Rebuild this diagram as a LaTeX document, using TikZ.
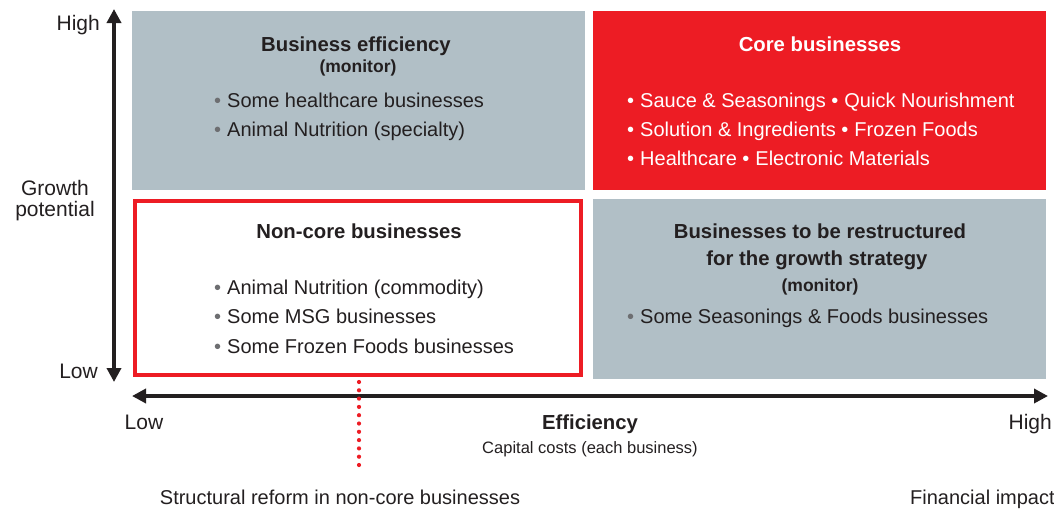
\documentclass[tikz,border=0pt]{standalone}
\usepackage{fontspec}
\setmainfont{Liberation Sans}
\usetikzlibrary{arrows.meta}
\definecolor{boxgray}{HTML}{B1BFC6}
\definecolor{corered}{HTML}{ED1C24}
\definecolor{txt}{HTML}{231F20}
\definecolor{bulgray}{HTML}{6D6E71}
\newcommand{\gb}{{\color{bulgray}\textbullet}\hspace{0.3em}}
\newcommand{\wb}{\textbullet\hspace{0.3em}}
\tikzset{
  quad/.style={draw=none,inner sep=0pt},
  body/.style={font=\fontsize{20}{24}\selectfont,text=txt,inner sep=0pt},
  lab/.style={font=\fontsize{21}{25}\selectfont,text=txt,inner sep=0pt},
  head/.style={font=\fontsize{20.3}{24}\selectfont\bfseries,text=txt,inner sep=0pt},
  subhead/.style={font=\fontsize{17.5}{20}\selectfont\bfseries,text=txt,inner sep=0pt},
  small/.style={font=\fontsize{16.5}{19}\selectfont,text=txt,inner sep=0pt},
  axis/.style={line width=3.8pt,draw=txt},
}
\begin{document}
\begin{tikzpicture}[x=1pt,y=-1pt]
\useasboundingbox (0,0) rectangle (1054,509);
% quadrants
\fill[boxgray] (132,11) rectangle (585,190);
\node[quad,minimum width=453pt,minimum height=179pt] (be) at (358.5,100.5) {};
\fill[corered] (593,11) rectangle (1046,190);
\node[quad,minimum width=453pt,minimum height=179pt] (cb) at (819.5,100.5) {};
\draw[corered,line width=4pt] (135,201) rectangle (581,375);
\node[quad,minimum width=446pt,minimum height=174pt] (nc) at (358,288) {};
\fill[boxgray] (593,199) rectangle (1046,379);
\node[quad,minimum width=453pt,minimum height=180pt] (rs) at (819.5,289) {};

% axes
\coordinate (vtop) at (114,9);
\coordinate (vbot) at (114,382);
\draw[axis,{Triangle[width=14pt,length=14pt]}-{Triangle[width=14pt,length=14pt]}] (vtop) -- (vbot);
\coordinate (hl) at (132,396);
\coordinate (hr) at (1048,396);
\draw[axis,{Triangle[width=14pt,length=14pt]}-{Triangle[width=14pt,length=14pt]}] (hl) -- (hr);

% axis labels
\node[lab,anchor=base east] (yh) at (100,30) {High};
\node[lab,anchor=base east] (yl) at (98,378) {Low};
\node[lab,anchor=base] (gp1) at (55,195) {Growth};
\node[lab,anchor=base] (gp2) at (55,216) {potential};
\node[lab,anchor=base] (xl) at (144,429) {Low};
\node[lab,anchor=base east] (xh) at (1052,429) {High};
\node[head,anchor=base] (eff) at (590,429) {Efficiency};
\node[small,anchor=base] (cap) at (590,453) {Capital costs (each business)};

% business efficiency
\node[head,anchor=base] (t1) at (356,51) {Business efficiency};
\node[subhead,anchor=base] (t1b) at (358,72) {(monitor)};
\node[body,anchor=base west] (b11) at (214,107) {\gb Some healthcare businesses};
\node[body,anchor=base west] (b12) at (214,136) {\gb Animal Nutrition (specialty)};

% core
\node[head,anchor=base,text=white] (t2) at (820,51) {Core businesses};
\node[body,anchor=base west,text=white] (b21) at (627,107) {\wb Sauce \& Seasonings \wb Quick Nourishment};
\node[body,anchor=base west,text=white] (b22) at (627,136) {\wb Solution \& Ingredients \wb Frozen Foods};
\node[body,anchor=base west,text=white] (b23) at (627,165) {\wb Healthcare \wb Electronic Materials};

% non-core
\node[head,anchor=base] (t3) at (359,238) {Non-core businesses};
\node[body,anchor=base west] (b31) at (214,294) {\gb Animal Nutrition (commodity)};
\node[body,anchor=base west] (b32) at (214,323) {\gb Some MSG businesses};
\node[body,anchor=base west] (b33) at (214,353) {\gb Some Frozen Foods businesses};

% restructured
\node[head,anchor=base] (t4a) at (820,238) {Businesses to be restructured};
\node[head,anchor=base] (t4b) at (817,265) {for the growth strategy};
\node[subhead,anchor=base] (t4c) at (820,291) {(monitor)};
\node[body,anchor=base west] (b41) at (627,323) {\gb Some Seasonings \& Foods businesses};

% bottom
\coordinate (dotstart) at (359,382);
\coordinate (dotend) at (359,470);
\draw[corered,line width=4.2pt,line cap=round,dash pattern=on 0pt off 8.3pt] (dotstart) -- (dotend);
\node[body,anchor=base] (sr) at (340,504) {Structural reform in non-core businesses};
\node[body,anchor=base west] (fi) at (910,504) {Financial impact};
\end{tikzpicture}
\end{document}
